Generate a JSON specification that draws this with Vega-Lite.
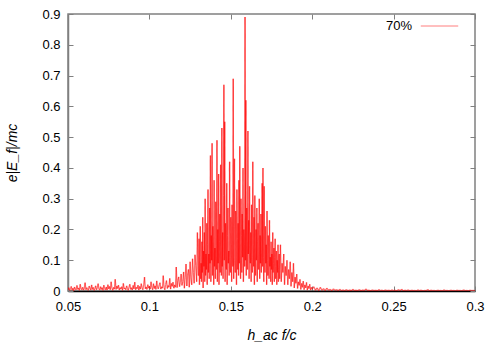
{
"$schema": "https://vega.github.io/schema/vega-lite/v6.json",
"width": 407, "height": 277,
"autosize": {"type": "none"},
"padding": {"left": 68, "top": 14, "right": 25, "bottom": 59},
"background": "white",
"config": {"view": {"stroke": "#808080", "strokeWidth": 1.5}, "font": "Liberation Sans"},
"data": {"values": [
{"x":0.0500,"y":0.004},
{"x":0.0505,"y":0.011},{"x":0.0510,"y":0.002},{"x":0.0515,"y":0.007},{"x":0.0520,"y":0.015},{"x":0.0525,"y":0.003},{"x":0.0530,"y":0.009},{"x":0.0535,"y":0.001},{"x":0.0540,"y":0.013},{"x":0.0545,"y":0.006},{"x":0.0550,"y":0.004},
{"x":0.0555,"y":0.018},{"x":0.0560,"y":0.005},{"x":0.0565,"y":0.010},{"x":0.0570,"y":0.002},{"x":0.0575,"y":0.022},{"x":0.0580,"y":0.007},{"x":0.0585,"y":0.004},{"x":0.0590,"y":0.012},{"x":0.0595,"y":0.003},{"x":0.0600,"y":0.008},
{"x":0.0605,"y":0.027},{"x":0.0610,"y":0.004},{"x":0.0615,"y":0.011},{"x":0.0620,"y":0.006},{"x":0.0625,"y":0.002},{"x":0.0630,"y":0.016},{"x":0.0635,"y":0.009},{"x":0.0640,"y":0.003},{"x":0.0645,"y":0.020},{"x":0.0650,"y":0.005},
{"x":0.0655,"y":0.012},{"x":0.0660,"y":0.002},{"x":0.0665,"y":0.008},{"x":0.0670,"y":0.017},{"x":0.0675,"y":0.004},{"x":0.0680,"y":0.010},{"x":0.0685,"y":0.024},{"x":0.0690,"y":0.006},{"x":0.0695,"y":0.003},{"x":0.0700,"y":0.014},
{"x":0.0705,"y":0.005},{"x":0.0710,"y":0.011},{"x":0.0715,"y":0.002},{"x":0.0720,"y":0.019},{"x":0.0725,"y":0.008},{"x":0.0730,"y":0.004},{"x":0.0735,"y":0.013},{"x":0.0740,"y":0.003},{"x":0.0745,"y":0.021},{"x":0.0750,"y":0.007},
{"x":0.0755,"y":0.015},{"x":0.0760,"y":0.004},{"x":0.0765,"y":0.030},{"x":0.0770,"y":0.009},{"x":0.0775,"y":0.002},{"x":0.0780,"y":0.012},{"x":0.0785,"y":0.006},{"x":0.0790,"y":0.038},{"x":0.0795,"y":0.005},{"x":0.0800,"y":0.016},
{"x":0.0805,"y":0.008},{"x":0.0810,"y":0.019},{"x":0.0815,"y":0.003},{"x":0.0820,"y":0.011},{"x":0.0825,"y":0.006},{"x":0.0830,"y":0.014},{"x":0.0835,"y":0.002},{"x":0.0840,"y":0.025},{"x":0.0845,"y":0.007},{"x":0.0850,"y":0.010},
{"x":0.0855,"y":0.004},{"x":0.0860,"y":0.017},{"x":0.0865,"y":0.009},{"x":0.0870,"y":0.002},{"x":0.0875,"y":0.013},{"x":0.0880,"y":0.022},{"x":0.0885,"y":0.005},{"x":0.0890,"y":0.011},{"x":0.0895,"y":0.003},{"x":0.0900,"y":0.018},
{"x":0.0905,"y":0.007},{"x":0.0910,"y":0.029},{"x":0.0915,"y":0.004},{"x":0.0920,"y":0.012},{"x":0.0925,"y":0.008},{"x":0.0930,"y":0.019},{"x":0.0935,"y":0.003},{"x":0.0940,"y":0.015},{"x":0.0945,"y":0.006},{"x":0.0950,"y":0.024},
{"x":0.0955,"y":0.010},{"x":0.0960,"y":0.004},{"x":0.0965,"y":0.020},{"x":0.0970,"y":0.045},{"x":0.0975,"y":0.007},{"x":0.0980,"y":0.013},{"x":0.0985,"y":0.005},{"x":0.0990,"y":0.021},{"x":0.0995,"y":0.009},{"x":0.1000,"y":0.016},
{"x":0.1005,"y":0.006},{"x":0.1010,"y":0.030},{"x":0.1015,"y":0.011},{"x":0.1020,"y":0.004},{"x":0.1025,"y":0.024},{"x":0.1030,"y":0.008},{"x":0.1035,"y":0.017},{"x":0.1040,"y":0.005},{"x":0.1045,"y":0.033},{"x":0.1050,"y":0.012},
{"x":0.1055,"y":0.007},{"x":0.1060,"y":0.020},{"x":0.1065,"y":0.027},{"x":0.1070,"y":0.006},{"x":0.1075,"y":0.014},{"x":0.1080,"y":0.009},{"x":0.1085,"y":0.050},{"x":0.1090,"y":0.011},{"x":0.1095,"y":0.004},{"x":0.1100,"y":0.022},
{"x":0.1105,"y":0.034},{"x":0.1110,"y":0.008},{"x":0.1115,"y":0.018},{"x":0.1120,"y":0.012},{"x":0.1125,"y":0.041},{"x":0.1130,"y":0.006},{"x":0.1135,"y":0.025},{"x":0.1140,"y":0.015},{"x":0.1145,"y":0.029},{"x":0.1150,"y":0.009},
{"x":0.1155,"y":0.020},{"x":0.1160,"y":0.012},{"x":0.1165,"y":0.078},{"x":0.1170,"y":0.011},{"x":0.1175,"y":0.035},{"x":0.1180,"y":0.046},{"x":0.1185,"y":0.014},{"x":0.1190,"y":0.028},{"x":0.1195,"y":0.055},{"x":0.1200,"y":0.018},
{"x":0.1205,"y":0.030},{"x":0.1210,"y":0.062},{"x":0.1215,"y":0.009},{"x":0.1220,"y":0.045},{"x":0.1225,"y":0.088},{"x":0.1230,"y":0.016},{"x":0.1235,"y":0.055},{"x":0.1240,"y":0.070},{"x":0.1245,"y":0.012},{"x":0.1250,"y":0.095},
{"x":0.1255,"y":0.040},{"x":0.1260,"y":0.020},{"x":0.1265,"y":0.105},{"x":0.1270,"y":0.060},{"x":0.1275,"y":0.025},{"x":0.1280,"y":0.118},{"x":0.1285,"y":0.082},{"x":0.1290,"y":0.030},{"x":0.1295,"y":0.190},{"x":0.1300,"y":0.050},
{"x":0.13025,"y":0.05},{"x":0.1305,"y":0.17},{"x":0.13075,"y":0.02},{"x":0.131,"y":0.11},{"x":0.13125,"y":0.21},{"x":0.1315,"y":0.04},{"x":0.13175,"y":0.09},{"x":0.132,"y":0.03},{"x":0.13225,"y":0.16},{"x":0.1325,"y":0.06},
{"x":0.13275,"y":0.24},{"x":0.133,"y":0.01},{"x":0.13325,"y":0.13},{"x":0.1335,"y":0.08},{"x":0.13375,"y":0.19},{"x":0.134,"y":0.03},{"x":0.13425,"y":0.30},{"x":0.1345,"y":0.05},{"x":0.13475,"y":0.12},{"x":0.135,"y":0.07},
{"x":0.13525,"y":0.22},{"x":0.1355,"y":0.02},{"x":0.13575,"y":0.15},{"x":0.136,"y":0.33},{"x":0.13625,"y":0.06},{"x":0.1365,"y":0.12},{"x":0.13675,"y":0.04},{"x":0.137,"y":0.27},{"x":0.13725,"y":0.09},{"x":0.1375,"y":0.44},
{"x":0.13775,"y":0.03},{"x":0.138,"y":0.18},{"x":0.13825,"y":0.10},{"x":0.1385,"y":0.48},{"x":0.13875,"y":0.05},{"x":0.139,"y":0.21},{"x":0.13925,"y":0.13},{"x":0.1395,"y":0.02},{"x":0.13975,"y":0.36},{"x":0.140,"y":0.08},
{"x":0.14025,"y":0.14},{"x":0.1405,"y":0.04},{"x":0.14075,"y":0.29},{"x":0.141,"y":0.11},{"x":0.14125,"y":0.07},{"x":0.1415,"y":0.49},{"x":0.14175,"y":0.03},{"x":0.142,"y":0.20},{"x":0.14225,"y":0.09},{"x":0.1425,"y":0.38},
{"x":0.14275,"y":0.02},{"x":0.143,"y":0.16},{"x":0.14325,"y":0.25},{"x":0.1435,"y":0.06},{"x":0.14375,"y":0.41},{"x":0.144,"y":0.12},{"x":0.14425,"y":0.05},{"x":0.1445,"y":0.53},{"x":0.14475,"y":0.08},{"x":0.145,"y":0.19},
{"x":0.14525,"y":0.04},{"x":0.1455,"y":0.31},{"x":0.14575,"y":0.67},{"x":0.146,"y":0.10},{"x":0.14625,"y":0.55},{"x":0.1465,"y":0.03},{"x":0.14675,"y":0.22},{"x":0.147,"y":0.14},{"x":0.14725,"y":0.07},{"x":0.1475,"y":0.35},
{"x":0.14775,"y":0.02},{"x":0.148,"y":0.18},{"x":0.14825,"y":0.27},{"x":0.1485,"y":0.09},{"x":0.14875,"y":0.13},{"x":0.149,"y":0.05},{"x":0.14925,"y":0.42},{"x":0.1495,"y":0.11},{"x":0.14975,"y":0.06},{"x":0.150,"y":0.24},
{"x":0.15025,"y":0.15},{"x":0.1505,"y":0.03},{"x":0.15075,"y":0.28},{"x":0.151,"y":0.12},{"x":0.15125,"y":0.08},{"x":0.1515,"y":0.69},{"x":0.15175,"y":0.04},{"x":0.152,"y":0.21},{"x":0.15225,"y":0.43},{"x":0.1525,"y":0.10},
{"x":0.15275,"y":0.06},{"x":0.153,"y":0.26},{"x":0.15325,"y":0.14},{"x":0.1535,"y":0.02},{"x":0.15375,"y":0.33},{"x":0.154,"y":0.17},{"x":0.15425,"y":0.07},{"x":0.1545,"y":0.22},{"x":0.15475,"y":0.05},{"x":0.155,"y":0.36},
{"x":0.15525,"y":0.09},{"x":0.1555,"y":0.47},{"x":0.15575,"y":0.13},{"x":0.156,"y":0.04},{"x":0.15625,"y":0.30},{"x":0.1565,"y":0.18},{"x":0.15675,"y":0.06},{"x":0.157,"y":0.25},{"x":0.15725,"y":0.11},{"x":0.1575,"y":0.40},
{"x":0.15775,"y":0.03},{"x":0.158,"y":0.20},{"x":0.15825,"y":0.15},{"x":0.1585,"y":0.08},{"x":0.15875,"y":0.89},{"x":0.159,"y":0.10},{"x":0.15925,"y":0.62},{"x":0.1595,"y":0.05},{"x":0.15975,"y":0.27},{"x":0.160,"y":0.16},
{"x":0.16025,"y":0.07},{"x":0.1605,"y":0.52},{"x":0.16075,"y":0.12},{"x":0.161,"y":0.23},{"x":0.16125,"y":0.04},{"x":0.1615,"y":0.34},{"x":0.16175,"y":0.14},{"x":0.162,"y":0.09},{"x":0.16225,"y":0.19},{"x":0.1625,"y":0.03},
{"x":0.16275,"y":0.28},{"x":0.163,"y":0.11},{"x":0.16325,"y":0.06},{"x":0.1635,"y":0.42},{"x":0.16375,"y":0.15},{"x":0.164,"y":0.08},{"x":0.16425,"y":0.24},{"x":0.1645,"y":0.02},{"x":0.16475,"y":0.31},{"x":0.165,"y":0.13},
{"x":0.16525,"y":0.05},{"x":0.1655,"y":0.20},{"x":0.16575,"y":0.10},{"x":0.166,"y":0.27},{"x":0.16625,"y":0.03},{"x":0.1665,"y":0.16},{"x":0.16675,"y":0.22},{"x":0.167,"y":0.07},{"x":0.16725,"y":0.12},{"x":0.1675,"y":0.30},
{"x":0.16775,"y":0.04},{"x":0.168,"y":0.18},{"x":0.16825,"y":0.09},{"x":0.1685,"y":0.25},{"x":0.16875,"y":0.06},{"x":0.169,"y":0.14},{"x":0.16925,"y":0.35},{"x":0.1695,"y":0.08},{"x":0.16975,"y":0.40},{"x":0.170,"y":0.11},
{"x":0.17025,"y":0.03},{"x":0.1705,"y":0.34},{"x":0.17075,"y":0.12},{"x":0.171,"y":0.06},{"x":0.17125,"y":0.21},{"x":0.1715,"y":0.09},{"x":0.17175,"y":0.15},{"x":0.172,"y":0.02},{"x":0.17225,"y":0.26},{"x":0.1725,"y":0.10},
{"x":0.17275,"y":0.05},{"x":0.173,"y":0.18},{"x":0.17325,"y":0.13},{"x":0.1735,"y":0.04},{"x":0.17375,"y":0.23},{"x":0.174,"y":0.08},{"x":0.17425,"y":0.11},{"x":0.1745,"y":0.03},{"x":0.17475,"y":0.16},{"x":0.175,"y":0.07},
{"x":0.17525,"y":0.12},{"x":0.1755,"y":0.02},{"x":0.17575,"y":0.19},{"x":0.176,"y":0.06},{"x":0.17625,"y":0.09},{"x":0.1765,"y":0.14},{"x":0.17675,"y":0.03},{"x":0.177,"y":0.11},{"x":0.17725,"y":0.17},{"x":0.1775,"y":0.04},
{"x":0.17775,"y":0.08},{"x":0.178,"y":0.13},{"x":0.17825,"y":0.02},{"x":0.1785,"y":0.10},{"x":0.17875,"y":0.06},{"x":0.179,"y":0.15},{"x":0.17925,"y":0.03},{"x":0.1795,"y":0.07},{"x":0.17975,"y":0.12},{"x":0.180,"y":0.04},
{"x":0.1805,"y":0.15},{"x":0.1810,"y":0.03},{"x":0.1815,"y":0.09},{"x":0.1820,"y":0.06},{"x":0.1825,"y":0.12},{"x":0.1830,"y":0.02},{"x":0.1835,"y":0.08},{"x":0.1840,"y":0.05},{"x":0.1845,"y":0.10},{"x":0.1850,"y":0.02},
{"x":0.1855,"y":0.07},{"x":0.1860,"y":0.04},{"x":0.1865,"y":0.095},{"x":0.1870,"y":0.015},{"x":0.1875,"y":0.06},{"x":0.1880,"y":0.03},{"x":0.1885,"y":0.09},{"x":0.1890,"y":0.01},{"x":0.1895,"y":0.045},{"x":0.1900,"y":0.025},
{"x":0.1905,"y":0.055},{"x":0.1910,"y":0.008},{"x":0.1915,"y":0.03},{"x":0.1920,"y":0.018},{"x":0.1925,"y":0.038},{"x":0.1930,"y":0.005},{"x":0.1935,"y":0.025},{"x":0.1940,"y":0.012},{"x":0.1945,"y":0.032},{"x":0.1950,"y":0.004},
{"x":0.1955,"y":0.02},{"x":0.1960,"y":0.01},{"x":0.1965,"y":0.028},{"x":0.1970,"y":0.003},{"x":0.1975,"y":0.016},{"x":0.1980,"y":0.008},{"x":0.1985,"y":0.022},{"x":0.1990,"y":0.003},{"x":0.1995,"y":0.012},{"x":0.2000,"y":0.006},
{"x":0.201,"y":0.014},{"x":0.202,"y":0.002},{"x":0.203,"y":0.010},{"x":0.204,"y":0.001},{"x":0.205,"y":0.012},{"x":0.206,"y":0.002},{"x":0.207,"y":0.008},{"x":0.208,"y":0.001},{"x":0.209,"y":0.009},{"x":0.210,"y":0.002},
{"x":0.211,"y":0.006},{"x":0.212,"y":0.001},{"x":0.213,"y":0.007},{"x":0.214,"y":0.002},{"x":0.215,"y":0.005},{"x":0.216,"y":0.001},{"x":0.217,"y":0.006},{"x":0.218,"y":0.001},{"x":0.219,"y":0.004},{"x":0.220,"y":0.001},
{"x":0.221,"y":0.005},{"x":0.222,"y":0.001},{"x":0.223,"y":0.004},{"x":0.224,"y":0.000},{"x":0.225,"y":0.006},{"x":0.226,"y":0.001},{"x":0.227,"y":0.003},{"x":0.228,"y":0.001},{"x":0.229,"y":0.005},{"x":0.230,"y":0.000},
{"x":0.231,"y":0.004},{"x":0.232,"y":0.001},{"x":0.233,"y":0.007},{"x":0.234,"y":0.001},{"x":0.235,"y":0.003},{"x":0.236,"y":0.000},{"x":0.237,"y":0.004},{"x":0.238,"y":0.001},{"x":0.239,"y":0.003},{"x":0.240,"y":0.000},
{"x":0.241,"y":0.005},{"x":0.242,"y":0.001},{"x":0.243,"y":0.003},{"x":0.244,"y":0.000},{"x":0.245,"y":0.004},{"x":0.246,"y":0.001},{"x":0.247,"y":0.003},{"x":0.248,"y":0.000},{"x":0.249,"y":0.004},{"x":0.250,"y":0.001},
{"x":0.251,"y":0.003},{"x":0.252,"y":0.000},{"x":0.253,"y":0.005},{"x":0.254,"y":0.001},{"x":0.255,"y":0.006},{"x":0.256,"y":0.000},{"x":0.257,"y":0.003},{"x":0.258,"y":0.001},{"x":0.259,"y":0.004},{"x":0.260,"y":0.000},
{"x":0.261,"y":0.003},{"x":0.262,"y":0.001},{"x":0.263,"y":0.002},{"x":0.264,"y":0.000},{"x":0.265,"y":0.004},{"x":0.266,"y":0.001},{"x":0.267,"y":0.003},{"x":0.268,"y":0.000},{"x":0.269,"y":0.002},{"x":0.270,"y":0.001},
{"x":0.271,"y":0.005},{"x":0.272,"y":0.000},{"x":0.273,"y":0.003},{"x":0.274,"y":0.001},{"x":0.275,"y":0.002},{"x":0.276,"y":0.000},{"x":0.277,"y":0.003},{"x":0.278,"y":0.001},{"x":0.279,"y":0.002},{"x":0.280,"y":0.000},
{"x":0.281,"y":0.004},{"x":0.282,"y":0.001},{"x":0.283,"y":0.002},{"x":0.284,"y":0.000},{"x":0.285,"y":0.003},{"x":0.286,"y":0.001},{"x":0.287,"y":0.002},{"x":0.288,"y":0.000},{"x":0.289,"y":0.003},{"x":0.290,"y":0.001},
{"x":0.291,"y":0.002},{"x":0.292,"y":0.000},{"x":0.293,"y":0.004},{"x":0.294,"y":0.001},{"x":0.295,"y":0.002},{"x":0.296,"y":0.000},{"x":0.297,"y":0.003},{"x":0.298,"y":0.001},{"x":0.299,"y":0.002},{"x":0.300,"y":0.001}
]},
"layer": [
{
"transform": [
 {"window": [{"op": "lag", "field": "x", "as": "x0"}, {"op": "lag", "field": "y", "as": "y0"}], "sort": [{"field": "x"}]},
 {"filter": "datum.x0 != null"}
],
"mark": {"type": "rule", "strokeWidth": 1.3, "strokeOpacity": 0.55, "clip": true},
"encoding": {
"x": {"field": "x", "type": "quantitative",
 "scale": {"domain": [0.05, 0.3], "nice": false, "zero": false},
 "axis": {"orient": "bottom", "values": [0.05, 0.1, 0.15, 0.2, 0.25, 0.3], "labelExpr": "format(datum.value, '~g')", "labelFlush": false,
  "grid": false, "tickSize": -5, "tickColor": "#808080", "domainColor": "#000000", "domainWidth": 1.5,
  "labelFontSize": 13, "labelColor": "#000000", "labelPadding": 14, "labelFont": "Liberation Sans",
  "title": "h_ac f/c", "titleFont": "Liberation Sans", "titleFontStyle": "italic", "titleFontWeight": "normal", "titleFontSize": 14, "titleColor": "#000000", "titlePadding": 15}},
"x2": {"field": "x0"},
"y": {"field": "y", "type": "quantitative",
 "scale": {"domain": [0, 0.9], "nice": false},
 "axis": {"orient": "left", "values": [0, 0.1, 0.2, 0.3, 0.4, 0.5, 0.6, 0.7, 0.8, 0.9], "labelExpr": "format(datum.value, '~g')", "labelFlush": false,
  "grid": false, "tickSize": -5, "tickColor": "#808080", "domainColor": "#808080", "domainWidth": 1.5,
  "labelFontSize": 13, "labelColor": "#000000", "labelPadding": 13, "labelFont": "Liberation Sans",
  "title": "e|E_f|/mc", "titleFont": "Liberation Sans", "titleFontStyle": "italic", "titleFontWeight": "normal", "titleFontSize": 14, "titleColor": "#000000", "titlePadding": 22}},
"y2": {"field": "y0"},
"color": {"datum": "70%", "type": "nominal", "scale": {"range": ["#ff0000"]},
 "legend": {"orient": "none", "legendX": 352, "legendY": -7.5, "title": null,
  "labelAlign": "right", "labelOffset": -47, "labelFontSize": 13, "labelColor": "#000000", "labelFont": "Liberation Sans",
  "symbolType": "stroke", "symbolSize": 1400, "symbolStrokeWidth": 1, "symbolOpacity": 0.5, "padding": 0}}
}
},
{
"mark": {"type": "line", "opacity": 0},
"encoding": {
"x": {"field": "x", "type": "quantitative",
 "axis": {"orient": "top", "values": [0.05, 0.1, 0.15, 0.2, 0.25, 0.3], "labels": false, "grid": false, "tickSize": -5, "tickColor": "#808080", "domain": false, "title": null}},
"y": {"field": "y", "type": "quantitative",
 "axis": {"orient": "right", "values": [0, 0.1, 0.2, 0.3, 0.4, 0.5, 0.6, 0.7, 0.8, 0.9], "labels": false, "grid": false, "tickSize": -5, "tickColor": "#808080", "domain": false, "title": null}}
}
}
],
"resolve": {"axis": {"x": "independent", "y": "independent"}}
}
